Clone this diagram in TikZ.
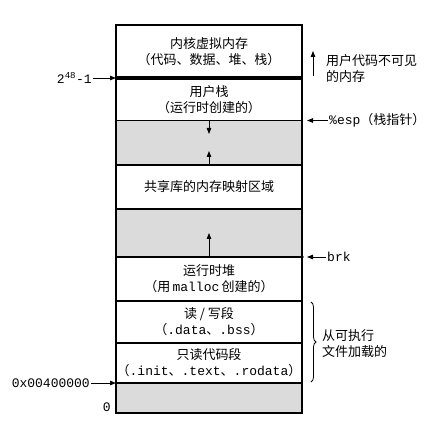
\documentclass[tikz,border=0pt]{standalone}
\usepackage{fontspec}
\setmainfont{Noto Sans CJK SC}
\setmonofont{Liberation Mono}
\usetikzlibrary{decorations.pathreplacing,arrows.meta}
\definecolor{stip}{gray}{0.86}
\tikzset{
  sec/.style={draw=black, line width=1.1pt, minimum width=186pt, inner sep=0pt, outer sep=0pt, align=center, font=\fontsize{13}{16}\selectfont},
  grayfill/.style={sec, fill=stip},
  arr/.style={-{Triangle[length=6pt,width=4.5pt]}, line width=0.9pt},
  lbl/.style={font=\fontsize{13}{16}\selectfont, inner sep=1pt},
  mono/.style={font=\fontsize{13}{16}\ttfamily, inner sep=1pt},
}
\begin{document}
\begin{tikzpicture}[x=1pt,y=-1pt]
\useasboundingbox (0,0) rectangle (445,425);
% sections (centre x = 209)
\node[sec, minimum height=53pt] (kern) at (209,51.5) {内核虚拟内存\\（代码、数据、堆、栈）};
\node[sec, minimum height=42.5pt] (stack) at (209,99.25) {用户栈\\（运行时创建的）};
\node[grayfill, minimum height=44.5pt] (gap1) at (209,142.75) {};
\node[sec, minimum height=44pt] (libs) at (209,187) {共享库的内存映射区域};
\node[grayfill, minimum height=48pt] (gap2) at (209,233) {};
\node[sec, minimum height=44pt] (heap) at (209,279) {运行时堆\\（用\,{\ttfamily malloc}\,创建的）};
\node[sec, minimum height=42pt] (rw) at (209,322) {读 / 写段\\（{\ttfamily .data}、{\ttfamily .bss}）};
\node[sec, minimum height=40pt] (ro) at (209,363) {只读代码段\\（{\ttfamily .init}、{\ttfamily .text}、{\ttfamily .rodata}）};
\node[grayfill, minimum height=30pt] (gap3) at (209,398) {};
% thick line between kernel and user stack
\draw[line width=3.6pt] (kern.south west) -- (kern.south east);
% outer frame thicker
\draw[line width=1.6pt] (kern.north west) rectangle (gap3.south east);
% arrows inside gaps
\coordinate (dn) at (209,134);
\coordinate (up1) at (209,151);
\coordinate (up2) at (209,233);
\draw[arr] (stack.south) -- (dn);
\draw[arr] (libs.north) -- (up1);
\draw[arr] (heap.north) -- (up2);
% left labels
\node[mono, anchor=east] (top) at (93,78) {2\textsuperscript{48}-1};
\draw[arr] (top.east) -- (kern.south west);
\node[mono, anchor=east] (base) at (91,383) {0x00400000};
\draw[arr] (base.east) -- (ro.south west);
\node[mono, anchor=east] (zero) at (112,407) {0};
% right labels
\node[lbl, anchor=west, align=left] (inv) at (325,69) {用户代码不可见\\的内存};
\coordinate (invb) at (313,76);
\coordinate (invt) at (313,51);
\draw[arr] (invb) -- (invt);
\node[lbl, anchor=west] (esp) at (328,120.5) {{\ttfamily \%esp}（栈指针）};
\draw[arr] (esp.west) -- ([xshift=5pt]stack.south east);
\fill (heap.north east) circle (1.8pt);
\node[mono, anchor=west] (brk) at (326,257) {brk};
\draw[arr] (brk.west) -- ([xshift=5pt]heap.north east);
\draw[decorate, decoration={brace, amplitude=5pt}, line width=0.8pt] (311,302) -- (311,382);
\node[lbl, anchor=west, align=left] (exe) at (321,344) {从可执行\\文件加载的};
\end{tikzpicture}
\end{document}
